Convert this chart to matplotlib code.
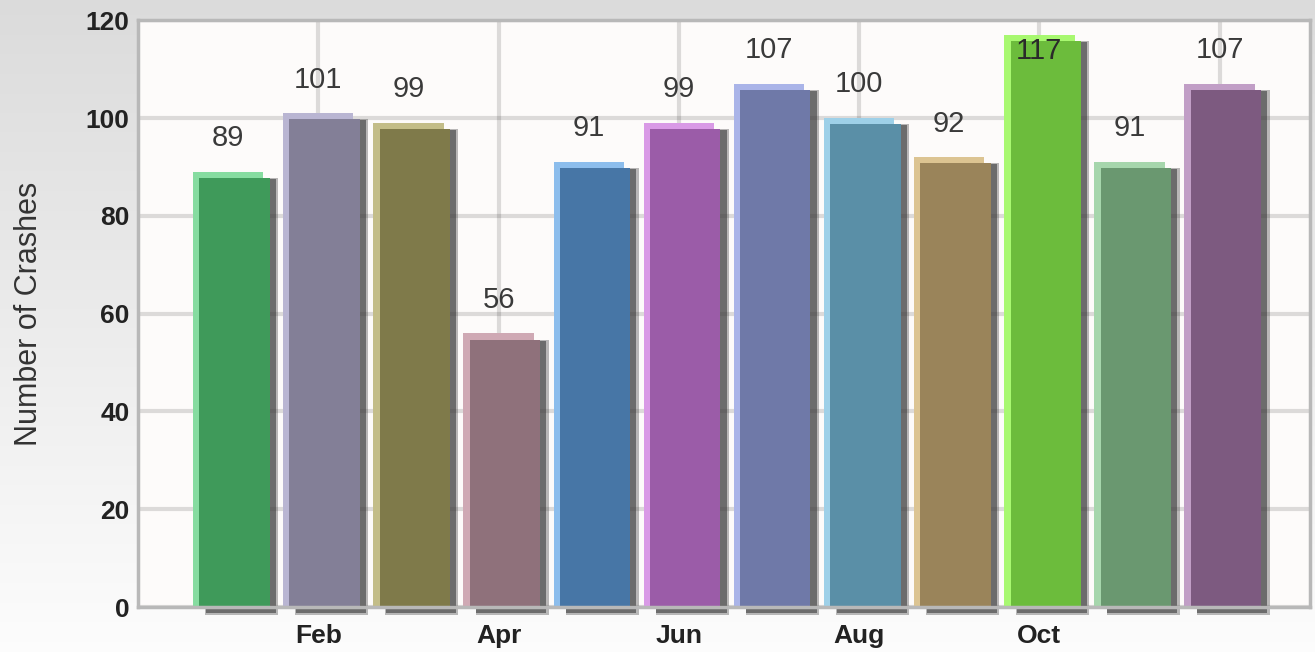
import numpy as np
import matplotlib.pyplot as plt

months = ["Jan", "Feb", "Mar", "Apr", "May", "Jun", "Jul", "Aug", "Sep", "Oct", "Nov", "Dec"]
crashes = [89, 101, 99, 56, 91, 99, 107, 100, 92, 117, 91, 107]
bar_colors = ["#3f9a5a", "#837f97", "#7f7a4a", "#8f717b", "#4776a6", "#9b5ca8",
              "#6f79a8", "#5a8fa7", "#9a845a", "#6cbc3c", "#6a9870", "#7d5a80"]
edge_colors = ["#86dca0", "#b9b5d2", "#c3bd88", "#cfa9b4", "#8cbdec", "#d99ae6",
               "#aab4e8", "#9ed0e8", "#dcc492", "#a8f870", "#a6d6ac", "#c19ec6"]
tick_pos = [2, 4, 6, 8, 10, 12]
tick_labels = ["Feb", "Apr", "Jun", "Aug", "Oct", ""]

plt.rcParams["font.family"] = ["Liberation Sans", "DejaVu Sans"]

fig = plt.figure(figsize=(13.15, 6.52), dpi=100)

# gradient background
bg = fig.add_axes([0, 0, 1, 1], zorder=-10)
grad = np.linspace(0.86, 0.99, 256).reshape(-1, 1)
bg.imshow(np.dstack([grad, grad, grad]), aspect="auto", extent=[0, 1, 0, 1])
bg.axis("off")

ax = fig.add_axes([0.105, 0.069, 0.891, 0.9])
ax.set_facecolor("#fdfbfa")

x = np.arange(1, len(months) + 1)
w = 0.78
dx = 0.07
dy = 1.3

# soft shadow (two layers)
vals = np.array(crashes)
ax.bar(x + 2 * dx + 0.01, vals + 0.4, bottom=-1.7, width=w + 0.03,
       color="#3a3a3a", alpha=0.35, zorder=2, clip_on=False)
ax.bar(x + 2 * dx, vals - 0.2, bottom=-1.3, width=w,
       color="#3a3a3a", alpha=0.6, zorder=2, clip_on=False)
# light edge
ax.bar(x, crashes, width=w, color=edge_colors, zorder=3)
# main body
ax.bar(x + dx, vals - dy, bottom=0, width=w, color=bar_colors, zorder=4)

for xi, v in zip(x, crashes):
    if v + 10 > 120:
        ax.text(xi, v - 0.5, str(v), ha="center", va="top", fontsize=21,
                color="#2a2a2a", zorder=6)
    else:
        ax.text(xi, v + 4, str(v), ha="center", va="bottom", fontsize=21,
                color="#3a3a3a", zorder=6)

ax.set_xlim(0, 13)
ax.set_ylim(0, 120)
ax.set_yticks(range(0, 121, 20))
ax.set_xticks(tick_pos)
ax.set_xticklabels(tick_labels)
ax.grid(True, color="black", alpha=0.13, linewidth=3)
for ln in ax.get_xgridlines() + ax.get_ygridlines():
    ln.set_zorder(5)
ax.tick_params(axis="y", length=0, labelsize=19, pad=6)
ax.tick_params(axis="x", length=0, labelsize=19, pad=12)
for lab in ax.get_xticklabels() + ax.get_yticklabels():
    lab.set_fontweight("bold")
    lab.set_color("#222222")
ax.set_ylabel("Number of Crashes", fontsize=22, color="#333333", labelpad=30)

for s in ax.spines.values():
    s.set_color("#b8b8b8")
    s.set_linewidth(2.5)
    s.set_zorder(7)

fig.savefig("out.png", dpi=100)
